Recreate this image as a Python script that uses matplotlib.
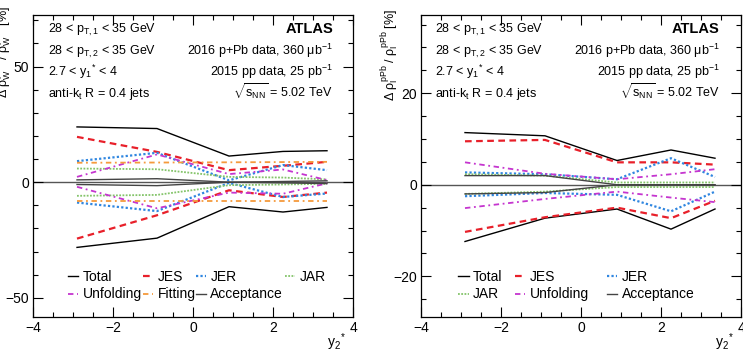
import numpy as np
import matplotlib
matplotlib.use('Agg')
import matplotlib.pyplot as plt
from matplotlib.lines import Line2D
from matplotlib.legend import Legend

plt.rcParams['font.family'] = ['Liberation Sans', 'DejaVu Sans']
plt.rcParams['mathtext.fontset'] = 'custom'
plt.rcParams['mathtext.rm'] = 'Liberation Sans'
plt.rcParams['mathtext.it'] = 'Liberation Sans'
plt.rcParams['mathtext.sf'] = 'Liberation Sans'
plt.rcParams['mathtext.bf'] = 'Liberation Sans:bold'

# y2* bin centres
ystar = [-2.9, -0.9, 0.9, 2.25, 3.35]

# left panel: rho_W relative uncertainties [%]
w_total_up = [23.9, 23.2, 11.3, 13.3, 13.6]
w_total_dn = [-28.2, -24.2, -10.6, -12.9, -10.9]
w_jes_up = [19.6, 13.1, 5.2, 7.1, 8.8]
w_jes_dn = [-24.4, -14.3, -3.5, -6.4, -4.5]
w_jer_up = [9.1, 12.7, 0.8, 7.4, 5.2]
w_jer_dn = [-8.8, -12.5, -0.3, -6.4, -4.9]
w_jar_up = [5.9, 5.6, 2.3, 2.0, 1.2]
w_jar_dn = [-5.9, -5.5, -1.3, -1.0, -0.7]
w_unf_up = [2.3, 12.0, 3.5, 5.5, 0.9]
w_unf_dn = [-2.0, -11.3, -4.5, -5.0, -0.5]
w_fit_up = [8.4, 8.5, 8.6, 8.7, 8.8]
w_fit_dn = [-8.3, -8.3, -8.3, -8.3, -8.3]
w_acc_up = [1.0, 1.5, 0.0, 0.3, 0.6]
w_acc_dn = [-1.0, -1.5, 0.0, -0.3, -0.6]

# right panel: rho_I relative uncertainties [%]
i_total_up = [11.4, 10.7, 5.3, 7.6, 5.8]
i_total_dn = [-12.4, -7.3, -5.3, -9.7, -5.3]
i_jes_up = [9.5, 9.8, 4.9, 4.9, 4.4]
i_jes_dn = [-10.3, -7.1, -5.0, -7.3, -3.5]
i_jer_up = [2.7, 2.3, 1.2, 5.8, 1.7]
i_jer_dn = [-2.5, -1.8, -2.2, -5.8, -1.5]
i_jar_up = [2.3, 2.0, 0.5, 0.5, 0.5]
i_jar_dn = [-2.0, -1.5, -0.5, -0.5, -0.5]
i_unf_up = [4.9, 2.4, 1.2, 2.3, 3.4]
i_unf_dn = [-5.1, -3.1, -1.5, -2.8, -3.8]
i_acc_up = [2.0, 2.0, 0.0, 0.0, 0.0]
i_acc_dn = [-2.0, -1.7, 0.0, 0.0, 0.0]

styles = {
    'Total': dict(color='black', ls='-', lw=1.0),
    'JES': dict(color='#e8202a', ls=(0, (3, 2)), lw=1.6),
    'JER': dict(color='#2f86e0', ls=(0, (1, 1)), lw=1.6),
    'JAR': dict(color='#84c46a', ls=(0, (1, 0.8)), lw=1.3),
    'Unfolding': dict(color='#c535cf', ls=(0, (3, 2, 1, 2)), lw=1.3),
    'Fitting': dict(color='#f59a3c', ls=(0, (3, 2, 1, 2)), lw=1.3),
    'Acceptance': dict(color='#444444', ls='-', lw=1.0),
}

fs = 9        # annotation text
fst = 10      # tick labels, legend
fig = plt.figure(figsize=(7.43, 3.54), dpi=100)
axL = fig.add_axes([33/743, 37/354, 320/743, 302/354])
axR = fig.add_axes([421/743, 37/354, 320/743, 302/354])


def draw(ax, series):
    ax.axhline(0, color='#555555', lw=1.0, zorder=1)
    for name, up, dn in series:
        st = styles[name]
        ax.plot(ystar, up, **st)
        ax.plot(ystar, dn, **st)


draw(axL, [('Total', w_total_up, w_total_dn), ('JES', w_jes_up, w_jes_dn),
           ('JER', w_jer_up, w_jer_dn), ('JAR', w_jar_up, w_jar_dn),
           ('Unfolding', w_unf_up, w_unf_dn), ('Fitting', w_fit_up, w_fit_dn),
           ('Acceptance', w_acc_up, w_acc_dn)])
draw(axR, [('Total', i_total_up, i_total_dn), ('JES', i_jes_up, i_jes_dn),
           ('JER', i_jer_up, i_jer_dn), ('JAR', i_jar_up, i_jar_dn),
           ('Unfolding', i_unf_up, i_unf_dn),
           ('Acceptance', i_acc_up, i_acc_dn)])

axL.set_ylim(-58.3, 72.3)
axR.set_ylim(-28.9, 37.1)
axL.set_yticks([-50, 0, 50])
axL.set_yticklabels(['\u221250', '0', '50'])
axL.set_yticks(np.arange(-50, 71, 10), minor=True)
axR.set_yticks([-20, 0, 20])
axR.set_yticklabels(['\u221220', '0', '20'])
axR.set_yticks(np.arange(-25, 36, 5), minor=True)

for ax in (axL, axR):
    ax.set_xlim(-4, 4)
    ax.set_xticks([-4, -2, 0, 2, 4])
    ax.set_xticklabels(['\u22124', '\u22122', '0', '2', '4'])
    ax.set_xticks(np.arange(-4, 4.01, 0.5), minor=True)
    ax.tick_params(which='both', direction='in', top=True, right=True,
                   labelsize=fst, width=0.8)
    ax.tick_params(which='major', length=7, pad=3)
    ax.tick_params(which='minor', length=3.5)
    for s in ax.spines.values():
        s.set_linewidth(0.9)
    ax.set_xlabel(r'y$_{2}$$^{*}$', fontsize=fst, loc='right')
    ax.xaxis.set_label_coords(0.978, -0.047)

axL.set_ylabel(r'$\Delta$ $\rho_{\mathrm{W}}^{\mathrm{pPb}}$ / $\rho_{\mathrm{W}}^{\mathrm{pPb}}$ [%]',
               fontsize=9, loc='top')
axL.yaxis.set_label_coords(-0.058, 1.03)
axR.set_ylabel(r'$\Delta$ $\rho_{\mathrm{I}}^{\mathrm{pPb}}$ / $\rho_{\mathrm{I}}^{\mathrm{pPb}}$ [%]',
               fontsize=9, loc='top')
axR.yaxis.set_label_coords(-0.062, 1.02)

left_txt = [r'28 < p$_{\mathrm{T,1}}$ < 35 GeV', r'28 < p$_{\mathrm{T,2}}$ < 35 GeV',
            r'2.7 < y$_{1}$$^{*}$ < 4', r'anti-k$_{t}$ R = 0.4 jets']
right_txt = [r'2016 p+Pb data, 360 $\mu$b$^{-1}$', r'2015 pp data, 25 pb$^{-1}$',
             r'$\sqrt{\mathrm{s}_{\mathrm{NN}}}$ = 5.02 TeV']
rows = [0.940, 0.869, 0.798, 0.727]

for ax, xl, xr in ((axL, 0.046, 0.9375), (axR, 0.044, 0.934)):
    for t, yy in zip(left_txt, rows):
        ax.text(xl, yy, t, transform=ax.transAxes, fontsize=fs, va='baseline')
    ax.text(xr, rows[0], 'ATLAS', transform=ax.transAxes, fontsize=fst + 0.5,
            fontweight='bold', ha='right', va='baseline')
    for t, yy in zip(right_txt, rows[1:]):
        ax.text(xr, yy, t, transform=ax.transAxes, fontsize=fs, ha='right',
                va='baseline')


def handle(name):
    return Line2D([], [], **styles[name])


def legend_cols(ax, cols, xs):
    for names, x in zip(cols, xs):
        leg = Legend(ax, [handle(n) for n in names], names, loc='upper left',
                     bbox_to_anchor=(x, 0.155), frameon=False, fontsize=fst,
                     borderpad=0, borderaxespad=0, handlelength=0.75,
                     handletextpad=0.3, labelspacing=0.23)
        ax.add_artist(leg)


legend_cols(axL, [['Total', 'Unfolding'], ['JES', 'Fitting'],
                  ['JER', 'Acceptance'], ['JAR']],
            [0.109, 0.344, 0.509, 0.7875])
legend_cols(axR, [['Total', 'JAR'], ['JES', 'Unfolding'], ['JER', 'Acceptance']],
            [0.116, 0.294, 0.581])

fig.savefig('out.png', dpi=100)
